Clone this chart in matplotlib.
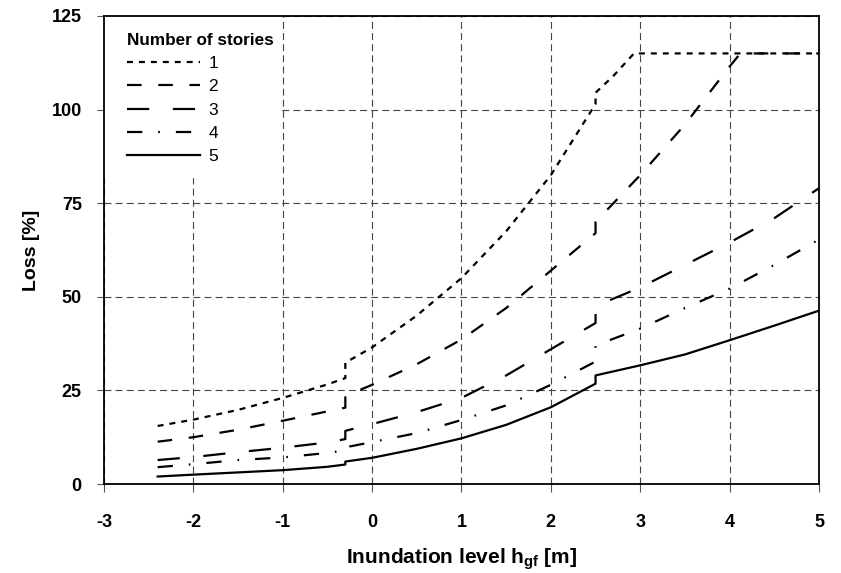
import matplotlib
matplotlib.use("Agg")
import matplotlib.pyplot as plt
from matplotlib.patches import Rectangle

plt.rcParams['font.family'] = ['Liberation Sans', 'DejaVu Sans']
plt.rcParams['lines.scale_dashes'] = False

# inundation level h_gf [m]; repeated x gives the steps at -0.3 m and 2.5 m
x_common = [-2.4, -2.0, -1.5, -1.0, -0.5, -0.3, -0.3, 0.0, 0.5, 1.0, 1.5, 2.0,
            2.5, 2.5, 3.0, 3.5, 4.0, 4.5, 5.0]
x_one = [-2.4, -2.0, -1.5, -1.0, -0.5, -0.3, -0.3, 0.0, 0.5, 1.0, 1.5, 2.0,
         2.5, 2.5, 2.7, 2.93, 5.0]
x_two = [-2.4, -2.0, -1.5, -1.0, -0.5, -0.3, -0.3, 0.0, 0.5, 1.0, 1.5, 2.0,
         2.5, 2.5, 3.0, 3.5, 4.0, 4.12, 5.0]

# loss [%] by number of stories
loss_1 = [15.5, 17.2, 19.8, 23.0, 26.6, 28.3, 32.4, 36.5, 45.0, 55.0, 67.5, 82.5,
          101.5, 104.5, 109.0, 115.0, 115.0]
loss_2 = [11.3, 12.5, 14.5, 16.9, 19.4, 20.4, 23.5, 26.5, 32.0, 38.6, 47.0, 57.0,
          67.0, 70.0, 82.5, 96.0, 111.5, 115.0, 115.0]
loss_3 = [6.4, 7.2, 8.5, 9.7, 11.1, 12.0, 14.2, 16.0, 19.2, 23.0, 29.0, 36.0,
          43.0, 47.5, 52.5, 58.5, 64.5, 71.0, 79.0]
loss_4 = [4.5, 5.3, 6.4, 7.1, 8.3, 9.0, 9.8, 11.2, 13.6, 17.1, 21.0, 26.5,
          32.7, 37.0, 41.5, 47.0, 52.2, 58.5, 65.3]
loss_5 = [2.0, 2.5, 3.1, 3.7, 4.6, 5.2, 6.0, 7.0, 9.4, 12.2, 15.8, 20.5,
          26.8, 29.0, 31.7, 34.6, 38.4, 42.3, 46.3]

stories = ['1', '2', '3', '4', '5']
x_ticks = [-3, -2, -1, 0, 1, 2, 3, 4, 5]
y_ticks = [0, 25, 50, 75, 100, 125]

series = [
    (x_one, loss_1, (0, (4.3, 4.3))),
    (x_two, loss_2, (0, (10.5, 12.0))),
    (x_common, loss_3, (0, (16.0, 17.0))),
    (x_common, loss_4, (0, (11.0, 11.5, 1.2, 11.5))),
    (x_common, loss_5, '-'),
]

fig = plt.figure(figsize=(8.41, 5.73), dpi=100)
ax = fig.add_axes([0.1237, 0.1553, 0.8501, 0.8168])

for (xs, ys, ls), name in zip(series, stories):
    ax.plot(xs, ys, color='black', linestyle=ls, linewidth=1.6, label=name,
            zorder=3)

ax.set_xlim(-3, 5)
ax.set_ylim(0, 125)
ax.set_xticks(x_ticks)
ax.set_yticks(y_ticks)
ax.set_xticklabels([str(t) for t in x_ticks])
ax.set_yticklabels([str(t) for t in y_ticks])

ax.set_axisbelow(True)
ax.grid(True, color='#444444', linestyle=(0, (5, 3)), linewidth=0.8)

for s in ax.spines.values():
    s.set_linewidth(1.3)
    s.set_color('black')

ax.tick_params(axis='x', direction='out', length=6, width=0.8, color='#555555',
               pad=15.5)
ax.tick_params(axis='y', direction='out', length=5, width=0.8, color='#555555',
               pad=11)
for lab in ax.get_xticklabels() + ax.get_yticklabels():
    lab.set_fontweight('bold')
    lab.set_fontsize(13)

ax.set_xlabel(r'Inundation level h$_\mathregular{gf}$ [m]', fontsize=15,
              fontweight='bold')
ax.set_ylabel('Loss [%]', fontsize=14, fontweight='bold')
ax.xaxis.set_label_coords(0.5, -0.133)
ax.yaxis.set_label_coords(-0.09, 0.5)

# white patch behind the legend hides the grid there
ax.add_patch(Rectangle((0, 0.654), 0.246, 0.346, transform=ax.transAxes,
                       facecolor='white', edgecolor='none', zorder=1))

leg = ax.legend(loc='upper left', bbox_to_anchor=(0.032, 0.964), frameon=False,
                title='Number of stories', alignment='left',
                title_fontproperties={'weight': 'bold', 'size': 12.3},
                fontsize=12.5, handlelength=4.2, handletextpad=0.5,
                labelspacing=0.47, borderpad=0, borderaxespad=0)

fig.savefig('out.png', dpi=100)
